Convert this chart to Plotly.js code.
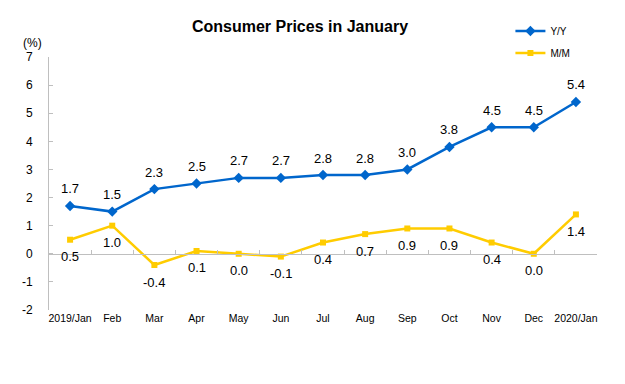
<!DOCTYPE html>
<html>
<head>
<meta charset="utf-8">
<script src="https://cdn.plot.ly/plotly-3.0.1.min.js"></script>
<style>html,body{margin:0;padding:0;background:#fff;}#chart{width:625px;height:384px;}</style>
</head>
<body>
<div id="chart"></div>
<script>
const categories = ["2019/Jan","Feb","Mar","Apr","May","Jun","Jul","Aug","Sep","Oct","Nov","Dec","2020/Jan"];
const yoy = [1.7,1.5,2.3,2.5,2.7,2.7,2.8,2.8,3.0,3.8,4.5,4.5,5.4];
const mom = [0.5,1.0,-0.4,0.1,0.0,-0.1,0.4,0.7,0.9,0.9,0.4,0.0,1.4];
const yTicks = [-2,-1,0,1,2,3,4,5,6,7];

const BLUE = "#0066CC", YELLOW = "#FFCC00";
const FONT = "Liberation Sans, Arial, sans-serif";

const traces = [
  {x: categories, y: yoy, name: "Y/Y", type: "scatter", mode: "lines+markers",
   line: {color: BLUE, width: 2.5}, marker: {symbol: "diamond", size: 8, color: BLUE},
   legendgroup: "a", xaxis: "x", yaxis: "y", hoverinfo: "skip"},
  {x: categories, y: mom, name: "M/M", type: "scatter", mode: "lines+markers",
   line: {color: YELLOW, width: 2.5}, marker: {symbol: "square", size: 6, color: YELLOW},
   legendgroup: "b", xaxis: "x2", yaxis: "y", hoverinfo: "skip"}
];

const annotations = [];
categories.forEach((c, i) => {
  annotations.push({x: c, y: yoy[i], xref: "x", yref: "y", text: yoy[i].toFixed(1),
    showarrow: false, yshift: 17, font: {family: FONT, size: 13, color: "#000"}});
  annotations.push({x: c, y: mom[i], xref: "x2", yref: "y", text: mom[i].toFixed(1),
    showarrow: false, yshift: -17, font: {family: FONT, size: 13, color: "#000"}});
});
annotations.push({xref: "paper", yref: "paper", x: -0.031, y: 1.02, xanchor: "center", yanchor: "bottom",
  text: "(%)", showarrow: false, font: {family: FONT, size: 12, color: "#000"}});

const layout = {
  width: 625, height: 384,
  margin: {l: 49, r: 28, t: 57, b: 74},
  paper_bgcolor: "#fff", plot_bgcolor: "#fff",
  font: {family: FONT, color: "#000"},
  title: {text: "<b>Consumer Prices in January</b>", x: 0.48, xanchor: "center", y: 0.93, yanchor: "middle",
    font: {family: FONT, size: 16, color: "#000"}},
  showlegend: true,
  legend: {x: 0.842, y: 1.16, xanchor: "left", yanchor: "top", bgcolor: "rgba(0,0,0,0)",
    font: {family: FONT, size: 10, color: "#000"}, tracegroupgap: 3, itemwidth: 30},
  xaxis: {type: "category", range: [-0.5, 12.5], showgrid: false, zeroline: false, showline: false,
    ticks: "", tickfont: {family: FONT, size: 10.5, color: "#000"}, fixedrange: true},
  xaxis2: {type: "category", overlaying: "x", anchor: "free", position: 2/9, side: "bottom",
    range: [-0.5, 12.5], showgrid: false, zeroline: false, showline: true, linecolor: "#BFBFBF", linewidth: 1,
    ticks: "inside", tickson: "boundaries", ticklen: 4, tickcolor: "#BFBFBF", showticklabels: false, fixedrange: true},
  yaxis: {range: [-2, 7], tickvals: yTicks, ticktext: yTicks.map(String), showgrid: false, zeroline: false,
    showline: true, linecolor: "#BFBFBF", linewidth: 1, ticks: "inside", ticklen: 4, tickcolor: "#BFBFBF",
    ticklabelstandoff: 13, tickfont: {family: FONT, size: 12, color: "#000"}, fixedrange: true},
  annotations: annotations
};

Plotly.newPlot("chart", traces, layout, {staticPlot: true, displayModeBar: false});
</script>
</body>
</html>
